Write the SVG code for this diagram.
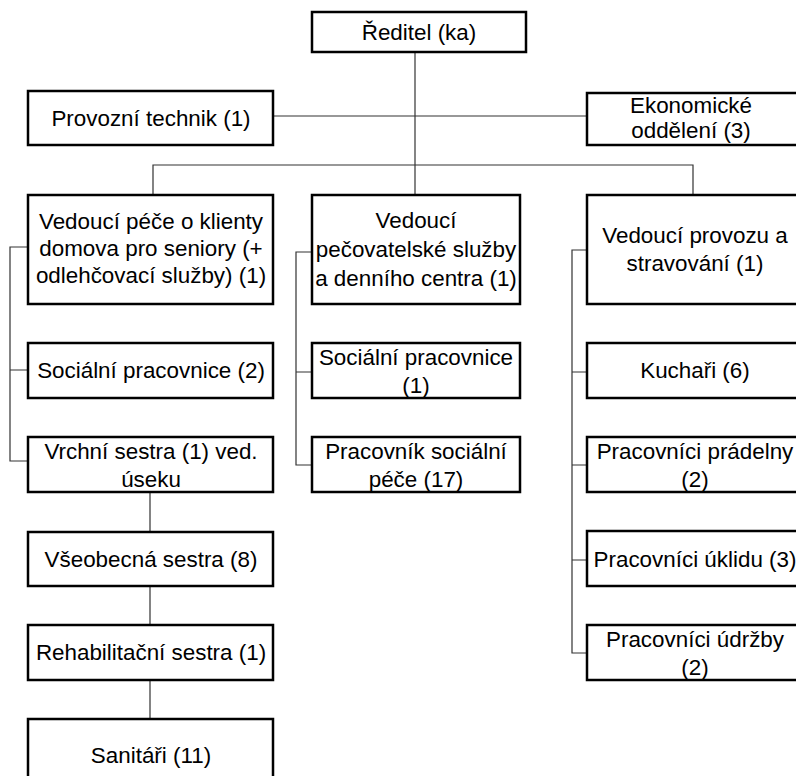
<svg xmlns="http://www.w3.org/2000/svg" width="796" height="776" viewBox="0 0 796 776">
<style>
.box{fill:#fff;stroke:#000;stroke-width:2.5}
.t{font-family:"Liberation Sans",Arial,sans-serif;font-size:22.4px;fill:#000;text-anchor:middle}
.c{fill:none;stroke:#333;stroke-width:1.2}
</style>
<rect width="796" height="776" fill="#fff"/>
<g id="connectors">
<path class="c" d="M415 52V195"/>
<path class="c" d="M273 116H587"/>
<path class="c" d="M153 195V165H693V195"/>
<path class="c" d="M28 247H10V461H28M10 370H28"/>
<path class="c" d="M312 252H296V465H312M296 372H312"/>
<path class="c" d="M587 250H572V653H587M572 372H587M572 465H587M572 560H587"/>
<path class="c" d="M150 492V532M150 586V625M150 680V719"/>
</g>
<g id="n-reditel"><rect class="box" x="312" y="12" width="214" height="40"/><text class="t" x="419" y="40">Ředitel (ka)</text></g>
<g id="n-provozni"><rect class="box" x="28" y="91" width="245" height="54"/><text class="t" x="151" y="126">Provozní technik (1)</text></g>
<g id="n-ekonom"><rect class="box" x="587" y="93" width="220" height="52"/><text class="t" x="691" y="113">Ekonomické</text><text class="t" x="691" y="138">oddělení (3)</text></g>
<g id="n-vedpece"><rect class="box" x="28" y="195" width="245" height="109"/><text class="t" x="151" y="229">Vedoucí péče o klienty</text><text class="t" x="151" y="256">domova pro seniory (+</text><text class="t" x="151" y="283">odlehčovací služby) (1)</text></g>
<g id="n-soc2"><rect class="box" x="28" y="343" width="245" height="55"/><text class="t" x="151" y="378">Sociální pracovnice (2)</text></g>
<g id="n-vrchni"><rect class="box" x="28" y="437" width="245" height="55"/><text class="t" x="151" y="459">Vrchní sestra (1) ved.</text><text class="t" x="151" y="487">úseku</text></g>
<g id="n-vseob"><rect class="box" x="28" y="532" width="245" height="54"/><text class="t" x="151" y="567">Všeobecná sestra (8)</text></g>
<g id="n-rehab"><rect class="box" x="28" y="625" width="245" height="55"/><text class="t" x="151" y="660">Rehabilitační sestra (1)</text></g>
<g id="n-sanit"><rect class="box" x="28" y="719" width="245" height="72"/><text class="t" x="151" y="763">Sanitáři (11)</text></g>
<g id="n-vedpecov"><rect class="box" x="312" y="195" width="208" height="109"/><text class="t" x="416" y="228">Vedoucí</text><text class="t" x="416" y="257">pečovatelské služby</text><text class="t" x="416" y="286">a denního centra (1)</text></g>
<g id="n-soc1"><rect class="box" x="312" y="343" width="208" height="55"/><text class="t" x="416" y="365">Sociální pracovnice</text><text class="t" x="416" y="393">(1)</text></g>
<g id="n-pracsoc"><rect class="box" x="312" y="437" width="208" height="55"/><text class="t" x="416" y="459">Pracovník sociální</text><text class="t" x="416" y="487">péče (17)</text></g>
<g id="n-vedprov"><rect class="box" x="587" y="195" width="220" height="109"/><text class="t" x="695" y="243">Vedoucí provozu a</text><text class="t" x="695" y="271">stravování (1)</text></g>
<g id="n-kuch"><rect class="box" x="587" y="343" width="220" height="55"/><text class="t" x="695" y="378">Kuchaři (6)</text></g>
<g id="n-prad"><rect class="box" x="587" y="437" width="220" height="55"/><text class="t" x="695" y="459">Pracovníci prádelny</text><text class="t" x="695" y="487">(2)</text></g>
<g id="n-ukl"><rect class="box" x="587" y="531" width="220" height="55"/><text class="t" x="695" y="567">Pracovníci úklidu (3)</text></g>
<g id="n-udr"><rect class="box" x="587" y="625" width="220" height="55"/><text class="t" x="695" y="647">Pracovníci údržby</text><text class="t" x="695" y="675">(2)</text></g>
</svg>
